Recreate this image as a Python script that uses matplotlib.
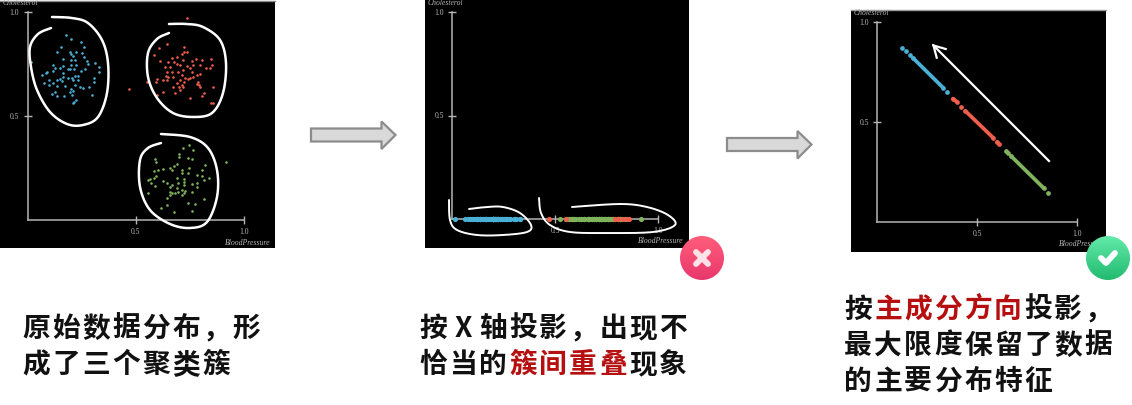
import numpy as np
import matplotlib
matplotlib.use('Agg')
import matplotlib.pyplot as plt
from matplotlib.patches import Rectangle, Polygon, Circle

plt.rcParams['font.family'] = ['Noto Sans CJK SC', 'DejaVu Sans']

# Data (axes run 0..1)
blue_x = [.18, .20, .245, .26, .157, .135, .198, .225, .25, .20, .26, .21, .166, .22, .20, .274, .015, .31, .28, .117,
          .166, .20, .225, .332, .125, .15, .186, .197, .215, .266, .248, .089, .065, .085, .12, .166, .332, .235, .22,
          .305, .166, .205, .189, .151, .135, .10, .077, .305, .12, .158, .209, .235, .097, .135, .174, .22, .282, .243,
          .258, .20, .128, .197, .208, .112, .135, .169, .205, .30, .225, .215, .208]
blue_y = [.89, .87, .855, .83, .83, .81, .81, .81, .805, .80, .785, .79, .772, .768, .77, .763, .758, .753, .75, .747,
          .742, .745, .744, .734, .729, .729, .724, .724, .724, .726, .718, .712, .697, .705, .718, .708, .713, .694, .692,
          .684, .686, .681, .681, .676, .673, .673, .66, .662, .657, .667, .673, .673, .649, .644, .644, .649, .641, .638,
          .635, .628, .617, .617, .622, .606, .596, .596, .601, .601, .577, .569, .561]
red_x = [.737, .643, .606, .723, .582, .725, .735, .715, .689, .666, .612, .651, .678, .72, .758, .778, .805, .848, .851,
         .843, .825, .635, .658, .689, .705, .735, .766, .751, .797, .643, .666, .697, .72, .758, .797, .782, .751, .638,
         .651, .674, .712, .728, .766, .597, .628, .551, .592, .643, .705, .723, .743, .789, .782, .712, .689, .674, .628,
         .597, .702, .72, .705, .682, .797, .855, .815, .805, .751, .858, .848, .471, .794]
red_y = [.971, .848, .829, .832, .795, .806, .809, .796, .785, .777, .764, .761, .761, .769, .766, .772, .769, .772, .745,
         .729, .729, .734, .737, .748, .745, .742, .745, .729, .745, .713, .713, .713, .721, .713, .70, .697, .681, .692,
         .686, .686, .697, .681, .686, .678, .673, .662, .665, .673, .673, .662, .678, .665, .654, .649, .657, .638, .614,
         .601, .638, .638, .625, .612, .638, .641, .609, .598, .585, .564, .561, .628, .649]
green_x = [.72, .745, .766, .70, .70, .74, .758, .589, .594, .689, .678, .82, .748, .658, .628, .602, .582, .666, .712, .805,
           .712, .74, .592, .582, .566, .555, .628, .643, .725, .725, .689, .805, .785, .84, .815, .782, .758, .725, .697,
           .666, .658, .689, .712, .728, .782, .589, .569, .555, .758, .658, .666, .682, .697, .643, .658, .815, .743, .774,
           .643, .615, .678, .758, .917, .725, .712]
green_y = [.345, .359, .335, .317, .303, .30, .295, .292, .28, .269, .261, .263, .252, .248, .244, .24, .237, .24, .24, .24,
           .224, .224, .213, .204, .197, .192, .188, .179, .197, .184, .20, .213, .216, .204, .192, .176, .173, .168, .176,
           .168, .157, .152, .144, .141, .16, .165, .176, .128, .136, .136, .128, .131, .136, .104, .12, .103, .083, .077,
           .072, .056, .038, .045, .277, .131, .12]

# second panel, the red dots that show on the green run
red_line_x = [.471, .551, .79, .805, .83, .848, .858]
green_line_extra_x = [.524]

# third panel, runs along the diagonal, nan splits the runs
blue_diag_x = [.127, np.nan, .145, np.nan, .163, np.nan, .18, .33, np.nan, .348]
blue_diag_y = [.872, np.nan, .855, np.nan, .833, np.nan, .82, .672, np.nan, .65]
red_diag_x = [.38, .40, np.nan, .422, np.nan, .442, .58, np.nan, .60, .608]
red_diag_y = [.617, .60, np.nan, .577, np.nan, .555, .422, np.nan, .40, .392]
green_diag_x = [.647, .655, np.nan, .67, .833, np.nan, .853]
green_diag_y = [.353, .345, np.nan, .33, .17, np.nan, .145]

blue, red, green = '#4bb0d6', '#ef5f4b', '#7fb35c'
tick_vals = [0.5, 1.0]
tick_text = ['0.5', '1.0']

fig = plt.figure(figsize=(11.32, 4.05), dpi=100)
W, H = 1132, 405

# background layer in pixels
bg = fig.add_axes([0, 0, 1, 1])
bg.set_xlim(0, W)
bg.set_ylim(H, 0)
bg.axis('off')
bg.add_patch(Rectangle((0, 1), 275, 247, color='black', lw=0))
bg.add_patch(Rectangle((425, 0), 264, 248, color='black', lw=0))
bg.add_patch(Rectangle((851, 10), 255, 242, color='black', lw=0))
bg.plot([0, 275], [0.5, 0.5], color='#888888', lw=1)
bg.plot([851, 1106], [10, 10], color='#999999', lw=1)


def panel(x0, x1, y0, y1):
    # x0..x1 and y0..y1 are pixel places of 0 and 1.0 on the axes
    ax = fig.add_axes([x0 / W, 1 - y0 / H, (x1 - x0) / W, (y0 - y1) / H])
    ax.patch.set_alpha(0)
    ax.set_xlim(0, 1)
    ax.set_ylim(0, 1)
    for s in ['top', 'right']:
        ax.spines[s].set_visible(False)
    for s in ['left', 'bottom']:
        ax.spines[s].set_color('#b5b5b5')
        ax.spines[s].set_linewidth(1.1)
    ax.set_xticks(tick_vals, tick_text, family='Liberation Serif', fontsize=5.5, color='#b5b5b5')
    ax.set_yticks(tick_vals, tick_text, family='Liberation Serif', fontsize=5.5, color='#b5b5b5')
    ax.tick_params(axis='x', direction='inout', length=6, width=1, color='#b5b5b5', pad=3)
    ax.tick_params(axis='y', direction='inout', length=6, width=1, color='#b5b5b5', pad=3)
    return ax


ax1 = panel(27.5, 244, 220, 12)
ax1.scatter(blue_x, blue_y, s=3.5, color=blue, lw=0, clip_on=False)
ax1.scatter(red_x, red_y, s=3.5, color=red, lw=0, clip_on=False)
ax1.scatter(green_x, green_y, s=3.5, color=green, lw=0, clip_on=False)

ax2 = panel(452, 658, 219, 12)
ax2.scatter(blue_x, np.zeros(len(blue_x)), s=14, color=blue, lw=0, clip_on=False, zorder=3)
ax2.scatter(green_x + green_line_extra_x, np.zeros(len(green_x) + 1), s=14, color=green, lw=0, clip_on=False, zorder=3)
ax2.scatter(red_line_x, np.zeros(len(red_line_x)), s=14, color=red, lw=0, clip_on=False, zorder=4)

ax3 = panel(877, 1077, 222, 22)
for xs, ys, c in [(blue_diag_x, blue_diag_y, blue), (red_diag_x, red_diag_y, red), (green_diag_x, green_diag_y, green)]:
    ax3.plot(xs, ys, color=c, lw=2.7, marker='o', ms=3.4, mew=0, solid_capstyle='round')

# top layer: labels, hand drawn curves, arrows, badges, captions
top = fig.add_axes([0, 0, 1, 1], zorder=10)
top.set_xlim(0, W)
top.set_ylim(H, 0)
top.axis('off')

for x, y, s in [(3, 3, 'Cholesterol'), (428, 3, 'Cholesterol'), (854, 13, 'Cholesterol')]:
    top.text(x, y, s, family='Liberation Serif', style='italic', fontsize=5.5, color='#b5b5b5', va='center')
for x, y, s in [(271, 243, 'BloodPressure'), (684, 241, 'BloodPressure'), (1105, 243.5, 'BloodPressure')]:
    top.text(x, y, s, family='Liberation Serif', style='italic', fontsize=5.6, color='#b5b5b5', va='center', ha='right')


def smooth(points):
    # Catmull-Rom through the hand read points
    p = np.array(points, dtype=float)
    p = np.vstack([p[0], p, p[-1]])
    out = []
    for i in range(1, len(p) - 2):
        t = np.linspace(0, 1, 20)[:, None]
        a, b, c, d = p[i - 1], p[i], p[i + 1], p[i + 2]
        out.append(0.5 * (2 * b + (c - a) * t + (2 * a - 5 * b + 4 * c - d) * t ** 2 + (3 * b - a - 3 * c + d) * t ** 3))
    return np.vstack(out)


loops = [
    [(51, 28), (38, 34), (30, 47), (31, 67), (37, 90), (50, 112), (67, 124), (83, 125), (98, 117), (107, 93), (108, 63),
     (102, 40), (88, 23), (72, 18), (52, 17)],
    [(169, 33), (157, 39), (148, 53), (148, 77), (157, 98), (173, 113), (193, 117), (212, 113), (223, 93), (226, 63),
     (220, 40), (203, 27), (187, 24), (169, 24)],
    [(161, 143), (148, 148), (140, 160), (140, 187), (150, 210), (170, 224), (190, 228), (207, 222), (217, 197),
     (217, 170), (208, 148), (190, 137), (161, 134)],
    [(449, 200), (450, 220), (457, 230), (477, 235), (503, 235), (527, 232), (531, 225), (520, 213), (503, 207),
     (487, 207), (469, 209)],
    [(539, 198), (541, 213), (550, 225), (570, 232), (607, 233), (653, 232), (675, 225), (668, 215), (647, 207),
     (620, 204), (572, 207)],
]
for i, loop in enumerate(loops):
    c = smooth(loop)
    top.plot(c[:, 0], c[:, 1], color='white', lw=1.8 if i < 3 else 1.4, solid_capstyle='round')

top.plot([1049, 933.5], [161, 45.5], color='white', lw=1.6)
top.plot([945.7, 933.5, 936.7], [49, 45.5, 57.7], color='white', lw=1.6, solid_joinstyle='miter')

# grey block arrows
for dx, dy in [(0, 0), (416, 9.5)]:
    top.add_patch(Polygon([(311 + dx, 128.5 + dy), (381.5 + dx, 128.5 + dy), (381.5 + dx, 121.5 + dy),
                           (395.5 + dx, 135 + dy), (381.5 + dx, 149 + dy), (381.5 + dx, 141.5 + dy),
                           (311 + dx, 141.5 + dy)], facecolor='#d9d9d9', edgecolor='#8c8c8c', lw=1.6))


def badge(cx, cy, r, c_top, c_bot):
    rows = np.linspace(0, 1, 64)[:, None, None]
    a = np.array(matplotlib.colors.to_rgb(c_top))[None, None, :]
    b = np.array(matplotlib.colors.to_rgb(c_bot))[None, None, :]
    im = top.imshow(a + (b - a) * rows, extent=[cx - r, cx + r, cy + r, cy - r], aspect='auto', zorder=5)
    im.set_clip_path(Circle((cx, cy), r, transform=top.transData))


badge(702, 258, 22, '#ff5d7a', '#e8386c')
badge(1108, 258, 22, '#62eaa8', '#22bb70')
top.set_xlim(0, W)
top.set_ylim(H, 0)
top.plot([696, 708], [252, 264], color='#fde3e8', lw=4.2, solid_capstyle='round', zorder=6)
top.plot([696, 708], [264, 252], color='#fde3e8', lw=4.2, solid_capstyle='round', zorder=6)
top.plot([1101, 1106, 1115], [258, 263, 253], color='white', lw=4.2, solid_capstyle='round',
         solid_joinstyle='round', zorder=6)

# captions: line start, centre y, list of (string, colour)
dark, accent = '#111111', '#b50f0f'
captions = [
    (23, 329, [('原始数据分布，形', dark)]),
    (23, 365, [('成了三个聚类簇', dark)]),
    (420, 329, [('按X轴投影，出现不', dark)]),
    (420, 365, [('恰当的', dark), ('簇间重叠', accent), ('现象', dark)]),
    (845, 310, [('按', dark), ('主成分方向', accent), ('投影，', dark)]),
    (845, 346, [('最大限度保留了数据', dark)]),
    (845, 382, [('的主要分布特征', dark)]),
]
pitch = 30.0
for x, y, runs in captions:
    for s, c in runs:
        for ch in s:
            top.text(x + 13, y, ch, fontsize=20, color=c, ha='center', va='center', weight='bold')
            x += pitch

plt.savefig('out.png', dpi=100)
